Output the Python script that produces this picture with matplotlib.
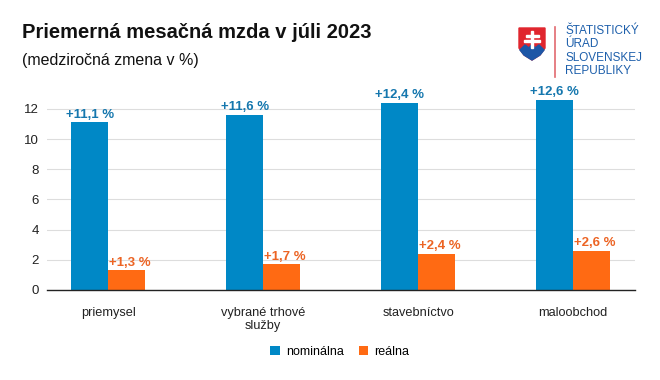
import matplotlib
matplotlib.use("Agg")
import matplotlib.pyplot as plt
from matplotlib.patches import Polygon, Rectangle
import numpy as np

plt.rcParams['font.family'] = ['Liberation Sans', 'DejaVu Sans']

categories = ["priemysel", "vybrané trhové\nslužby", "stavebníctvo", "maloobchod"]
nominalna = [11.1, 11.6, 12.4, 12.6]
realna = [1.3, 1.7, 2.4, 2.6]
nom_labels = ["+11,1 %", "+11,6 %", "+12,4 %", "+12,6 %"]
real_labels = ["+1,3 %", "+1,7 %", "+2,4 %", "+2,6 %"]
yticks = [0, 2, 4, 6, 8, 10, 12]

c_nom = "#0088c6"
c_real = "#ff6a13"
c_nom_lab = "#1577ae"
c_real_lab = "#ec6424"

fig = plt.figure(figsize=(6.6, 3.8), dpi=100)
ax = fig.add_axes([47/660, 90/380, (635-47)/660, (290-93.7)/380])

x = np.arange(len(categories))
w = 0.238
b1 = ax.bar(x - w/2, nominalna, w, color=c_nom, label="nominálna")
b2 = ax.bar(x + w/2, realna, w, color=c_real, label="reálna")
for xi, v, t in zip(x, nominalna, nom_labels):
    ax.text(xi - w/2, v + 0.1, t, ha='center', va='bottom', color=c_nom_lab,
            fontsize=9.5, fontweight='bold')
for xi, v, t in zip(x, realna, real_labels):
    ax.text(xi + w/2 + 0.02, v + 0.1, t, ha='center', va='bottom', color=c_real_lab,
            fontsize=9.5, fontweight='bold')

ax.set_xlim(-0.394, 3.40)
ax.set_ylim(0, 13)
ax.set_yticks(yticks)
ax.set_yticklabels([str(t) for t in yticks], fontsize=9.5, color="#222222")
ax.set_xticks(x)
ax.set_xticklabels(categories, fontsize=9.2, color="#222222", linespacing=1.15)
ax.tick_params(axis='x', length=0, pad=12)
ax.tick_params(axis='y', length=0, pad=6)
ax.grid(axis='y', color="#dddddd", linewidth=0.8)
ax.set_axisbelow(True)
for s in ['top', 'right', 'left']:
    ax.spines[s].set_visible(False)
ax.spines['bottom'].set_color("#222222")
ax.spines['bottom'].set_linewidth(1.0)
ax.spines['bottom'].set_zorder(5)

fig.legend(handles=[b1, b2], loc='center', bbox_to_anchor=(340/660, 1 - 352/380),
           ncol=2, frameon=False, fontsize=9, handlelength=0.75, handleheight=0.75,
           columnspacing=1.2, handletextpad=0.5)

fig.text(22/660, 1 - 33/380, "Priemerná mesačná mzda v júli 2023", fontsize=14.5,
         fontweight='bold', va='center', ha='left', color="#111111")
fig.text(22/660, 1 - 61/380, "(medziročná zmena v %)", fontsize=11.5,
         va='center', ha='left', color="#111111")

# logo
lax = fig.add_axes([0, 0, 1, 1], facecolor='none')
lax.set_xlim(0, 660)
lax.set_ylim(380, 0)
lax.axis('off')
shield = Polygon([(519, 28), (545, 28), (545, 48), (540, 55), (532, 60), (524, 55), (519, 48)],
                 closed=True, color="#e0262e")
lax.add_patch(shield)
lax.add_patch(Polygon([(520, 50), (525, 45), (529, 48), (532, 44), (535, 48), (539, 45), (544, 50),
                       (540, 55), (532, 60), (524, 55)], closed=True, color="#1d56a6"))
lax.add_patch(Rectangle((530.8, 31), 2.4, 17, color="white"))
lax.add_patch(Rectangle((525.5, 35), 13, 2.2, color="white"))
lax.add_patch(Rectangle((524, 40), 16, 2.4, color="white"))
lax.plot([555, 555], [27, 77], color="#e26a6f", linewidth=1.2)
fig.text(565/660, 1 - 51/380, "ŠTATISTICKÝ\nÚRAD\nSLOVENSKEJ\nREPUBLIKY", fontsize=8.5,
         color="#1d5fab", va='center', ha='left', linespacing=1.15)

fig.savefig("out.png", dpi=100, facecolor='white')
